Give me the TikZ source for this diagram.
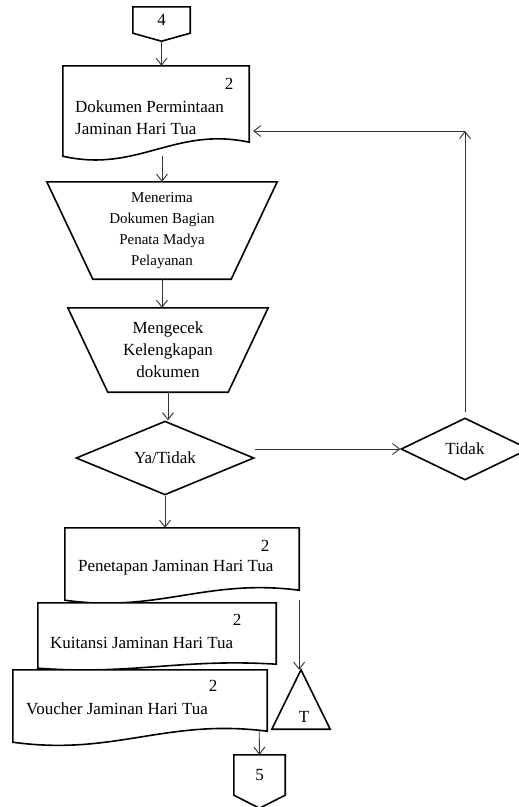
\documentclass[tikz,border=0pt]{standalone}
\usepackage{fontspec}
\setmainfont{Liberation Serif}
\usetikzlibrary{arrows.meta,shapes.geometric,calc,positioning}

% bentuk dokumen: nama node, tinggi gelombang
\newcommand{\dokbentuk}[2]{%
  \draw[bentuk, fill=white] (#1.north west) -- (#1.north east)
    -- ([yshift=#2pt]#1.south east)
    .. controls ($(#1.south east)!0.4!(#1.south west)+(0pt,{(2*#2+2)*1pt})$)
    and ($(#1.south east)!0.6!(#1.south west)+(0pt,{-(#2+3)*1pt})$)
    .. (#1.south west) -- cycle;}

% bentuk proses manual: nama node, jarak miring bawah
\newcommand{\trapbentuk}[2]{%
  \draw[bentuk] (#1.north west) -- (#1.north east)
    -- ([xshift=-#2pt]#1.south east) -- ([xshift=#2pt]#1.south west) -- cycle;}

\begin{document}
\begin{tikzpicture}[x=1pt, y=-1pt, >={Straight Barb[length=7pt,width=11pt]},
    every node/.style={font=\fontsize{17}{22}\selectfont, inner sep=0pt},
    bentuk/.style={line width=1.6pt, line join=miter},
    garis/.style={->, line width=0.9pt, black!80}]
    \clip (0,0) rectangle (519,807);

    % Penghubung awal
    \node[minimum width=57, minimum height=26] (k4) at (161.5,20) {4};
    \draw[bentuk] (k4.north west) -- (k4.north east) -- (k4.south east)
      -- ([yshift=-8pt]k4.south) -- (k4.south west) -- cycle;

    % Dokumen permintaan
    \node[minimum width=186, minimum height=90] (dok1) at (156,111) {};
    \dokbentuk{dok1}{14}
    \node[anchor=west, align=left] (dok1t) at (75,118) {Dokumen Permintaan\\Jaminan Hari Tua};
    \node (dok1n) at (229,84) {2};

    % Proses
    \node[minimum width=230, minimum height=97, align=center,
      font=\fontsize{15}{21}\selectfont] (terima) at (162,230.5)
      {Menerima\\Dokumen Bagian\\Penata Madya\\Pelayanan};
    \trapbentuk{terima}{46}

    \node[minimum width=200, minimum height=84, align=center] (cek) at (168,350)
      {Mengecek\\Kelengkapan\\dokumen};
    \trapbentuk{cek}{40}

    % Keputusan
    \node[diamond, draw, bentuk, minimum width=178, minimum height=62] (yt) at (165,458) {Ya/Tidak};
    \node[diamond, draw, bentuk, minimum width=128, minimum height=62] (tidak) at (465,449) {Tidak};

    % Dokumen keluaran
    \node[minimum width=234, minimum height=72] (pen) at (182,564) {};
    \dokbentuk{pen}{10}
    \node[anchor=west] (pent) at (78,568) {Penetapan Jaminan Hari Tua};
    \node (pen2) at (265,546) {2};

    \node[minimum width=238, minimum height=65] (kui) at (157,635.5) {};
    \dokbentuk{kui}{4}
    \node[anchor=west] (kuit) at (50,643) {Kuitansi Jaminan Hari Tua};
    \node (kui2) at (237,620) {2};

    \node[minimum width=254, minimum height=72] (vou) at (140,706) {};
    \dokbentuk{vou}{11}
    \node[anchor=west] (vout) at (26,709) {Voucher Jaminan Hari Tua};
    \node (vou2) at (213,686) {2};

    % Arsip
    \node[minimum width=58, minimum height=59,
      label={[anchor=base, xshift=3pt, yshift=7pt]south:T}] (tri) at (301,699.5) {};
    \draw[bentuk] (tri.south west) -- (tri.south east) -- (tri.north) -- cycle;

    % Penghubung akhir
    \node[minimum width=51, minimum height=40] (k5) at (259.5,775) {5};
    \draw[bentuk] (k5.north west) -- (k5.north east) -- (k5.south east)
      -- ([yshift=-13pt]k5.south) -- (k5.south west) -- cycle;

    % Arus
    \draw[garis] ([yshift=-8pt]k4.south) -- (k4.south |- dok1.north);
    \draw[garis] (terima.north |- dok1.south) -- (terima.north);
    \draw[garis] (terima.south) -- (terima.south |- cek.north);
    \draw[garis] (cek.south) -- (cek.south |- yt.north);
    \draw[garis] (yt.east |- tidak.west) -- (tidak.west);
    \coordinate (balik) at (tidak.north |- 0,131);
    \draw[garis] ([yshift=5pt]tidak.north) -- (balik);
    \draw[garis, shorten >=4pt] (balik) -- (balik -| dok1.east);
    \draw[garis] (yt.south) -- (yt.south |- pen.north);
    \draw[garis] (pen.south east) -- (pen.south east |- tri.north);
    \draw[garis] ([xshift=-8pt,yshift=11pt]vou.south east) -- (k5.north);
\end{tikzpicture}
\end{document}
